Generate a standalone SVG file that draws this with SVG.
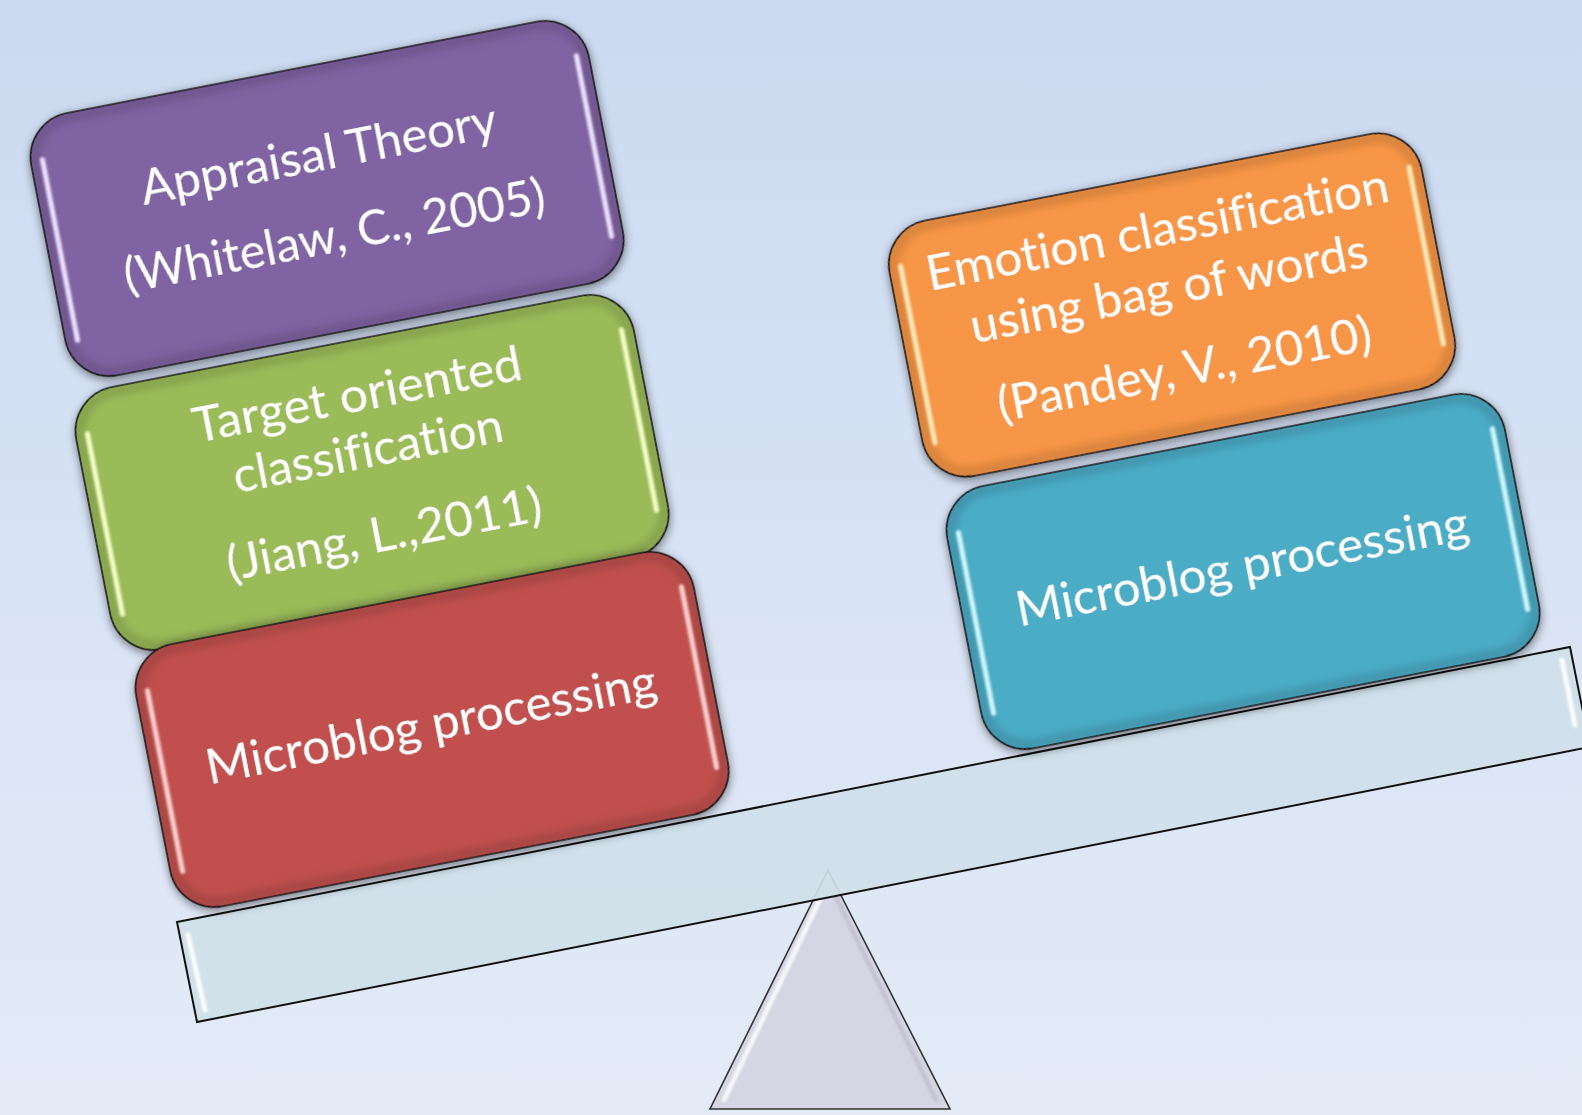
<svg xmlns="http://www.w3.org/2000/svg" width="1582" height="1115" viewBox="0 0 1582 1115">
<defs>
<linearGradient id="bg" x1="0" y1="0" x2="0" y2="1">
<stop offset="0" stop-color="#cbdaf1"/>
<stop offset="1" stop-color="#e4ebf7"/>
</linearGradient>
<filter id="shadow" x="-10%" y="-10%" width="120%" height="125%">
<feGaussianBlur in="SourceAlpha" stdDeviation="4"/>
<feOffset dx="0" dy="4" result="b"/>
<feComponentTransfer><feFuncA type="linear" slope="0.35"/></feComponentTransfer>
<feMerge><feMergeNode/><feMergeNode in="SourceGraphic"/></feMerge>
</filter>
<filter id="soft" filterUnits="userSpaceOnUse" x="-2000" y="-2000" width="4000" height="4000">
<feGaussianBlur stdDeviation="1.2"/>
</filter>
<filter id="inner" x="-5%" y="-5%" width="110%" height="110%">
<feGaussianBlur stdDeviation="5"/>
</filter>
</defs>
<style>
.box{stroke:#1a1a1a;stroke-width:1.6}
.edge{fill:none;stroke:#000;stroke-opacity:0.18;stroke-width:8;filter:url(#inner)}
.hl{fill:none;stroke-width:5;stroke-linecap:round;filter:url(#soft)}
.t{font-family:Lato,"Open Sans","Liberation Sans",sans-serif;font-size:48px;fill:#ffffff;text-anchor:middle;font-variant-ligatures:none}
.beam{fill:#cfe0e8;fill-opacity:0.92;stroke:#111;stroke-width:2}
.tri{fill:#d5d5e3;stroke:#333;stroke-width:1.6}
</style>
<rect x="0" y="0" width="1582" height="1115" fill="url(#bg)"/>

<g id="fulcrum">
<polygon class="tri" points="828,870 710,1109 950,1109"/>
<line x1="822" y1="895" x2="724" y2="1100" stroke="#ffffff" stroke-opacity="0.8" class="hl"/>
<line x1="835" y1="895" x2="936" y2="1100" stroke="#a9a9bb" stroke-opacity="0.4" class="hl"/>
</g>

<g id="beam">
<polygon class="beam" points="177,922 1570,647 1590,747 197,1022"/>
<line x1="188" y1="935" x2="205" y2="1010" stroke="#ffffff" stroke-opacity="0.9" class="hl"/>
<line x1="1562" y1="660" x2="1575" y2="725" stroke="#ffffff" stroke-opacity="0.9" class="hl"/>
</g>

<g id="node-appraisal" transform="translate(327,198) rotate(-11)" filter="url(#shadow)">
<rect class="box" x="-284" y="-133" width="568" height="267" rx="45" fill="#8064a2"/>
<rect class="edge" x="-280" y="-129" width="560" height="259" rx="42"/>
<line class="hl" x1="-272" y1="-92" x2="-272" y2="92" stroke="#ece2ff"/>
<line class="hl" x1="272" y1="-92" x2="272" y2="92" stroke="#ece2ff"/>
<text class="t" x="0" y="-28" textLength="362" lengthAdjust="spacingAndGlyphs">Appraisal Theory</text>
<text class="t" x="0" y="55" textLength="428" lengthAdjust="spacingAndGlyphs">(Whitelaw, C., 2005)</text>
</g>

<g id="node-target" transform="translate(372,472) rotate(-11)" filter="url(#shadow)">
<rect class="box" x="-284" y="-133" width="568" height="267" rx="45" fill="#9bbb59"/>
<rect class="edge" x="-280" y="-129" width="560" height="259" rx="42"/>
<line class="hl" x1="-272" y1="-92" x2="-272" y2="92" stroke="#f4ffc8"/>
<line class="hl" x1="272" y1="-92" x2="272" y2="92" stroke="#f4ffc8"/>
<text class="t" x="0" y="-62" textLength="334" lengthAdjust="spacingAndGlyphs">Target oriented</text>
<text class="t" x="0" y="-5" textLength="274" lengthAdjust="spacingAndGlyphs">classification</text>
<text class="t" x="0" y="80" textLength="320" lengthAdjust="spacingAndGlyphs">(Jiang, L.,2011)</text>
</g>

<g id="node-microblog-left" transform="translate(432,729) rotate(-11)" filter="url(#shadow)">
<rect class="box" x="-284" y="-133" width="568" height="267" rx="45" fill="#c0504d"/>
<rect class="edge" x="-280" y="-129" width="560" height="259" rx="42"/>
<line class="hl" x1="-272" y1="-92" x2="-272" y2="92" stroke="#ffd0d0"/>
<line class="hl" x1="272" y1="-92" x2="272" y2="92" stroke="#ffd0d0"/>
<text class="t" x="0" y="12" textLength="458" lengthAdjust="spacingAndGlyphs">Microblog processing</text>
</g>

<g id="node-emotion" transform="translate(1172,305) rotate(-11)" filter="url(#shadow)">
<rect class="box" x="-271" y="-130" width="542" height="260" rx="45" fill="#f79646"/>
<rect class="edge" x="-267" y="-126" width="534" height="252" rx="42"/>
<line class="hl" x1="-259" y1="-90" x2="-259" y2="90" stroke="#ffeab8"/>
<line class="hl" x1="259" y1="-90" x2="259" y2="90" stroke="#ffeab8"/>
<text class="t" x="0" y="-60" textLength="470" lengthAdjust="spacingAndGlyphs">Emotion classification</text>
<text class="t" x="0" y="0" textLength="404" lengthAdjust="spacingAndGlyphs">using bag of words</text>
<text class="t" x="0" y="82" textLength="380" lengthAdjust="spacingAndGlyphs">(Pandey, V., 2010)</text>
</g>

<g id="node-microblog-right" transform="translate(1243,571) rotate(-11)" filter="url(#shadow)">
<rect class="box" x="-284" y="-133" width="568" height="267" rx="45" fill="#4bacc6"/>
<rect class="edge" x="-280" y="-129" width="560" height="259" rx="42"/>
<line class="hl" x1="-272" y1="-92" x2="-272" y2="92" stroke="#d0f8ff"/>
<line class="hl" x1="272" y1="-92" x2="272" y2="92" stroke="#d0f8ff"/>
<text class="t" x="0" y="12" textLength="460" lengthAdjust="spacingAndGlyphs">Microblog processing</text>
</g>

<g id="connectors"></g>
</svg>
